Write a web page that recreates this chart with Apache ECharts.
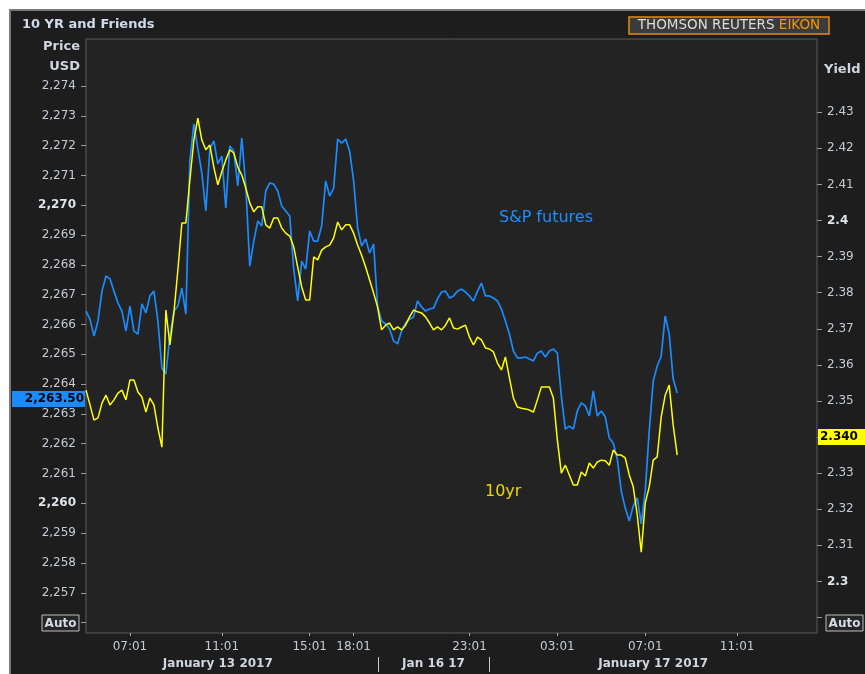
<!DOCTYPE html>
<html>
<head>
<meta charset="utf-8">
<title>10 YR and Friends</title>
<script src="https://cdn.jsdelivr.net/npm/echarts@6/dist/echarts.min.js"></script>
<style>
  html, body { margin: 0; padding: 0; background: #ffffff; }
  #chart { width: 865px; height: 674px; }
</style>
</head>
<body>
<div id="chart"></div>
<script>
// one slot = one step of the (trading-time) x axis
const slotCount = 184;
const timeTicks = [11, 34, 56, 67, 96, 118, 140, 163];
const timeLabels = ['07:01', '11:01', '15:01', '18:01', '23:01', '03:01', '07:01', '11:01'];
const daySplits = [73, 101];
const dayCenters = [33.25, 87.25, 141.5];
const dayLabels = ['January 13 2017', 'Jan 16 17', 'January 17 2017'];

const priceTicks = [2256, 2257, 2258, 2259, 2260, 2261, 2262, 2263, 2264, 2265,
  2266, 2267, 2268, 2269, 2270, 2271, 2272, 2273, 2274];
const yieldTicks = [2.29, 2.30, 2.31, 2.32, 2.33, 2.34, 2.35, 2.36, 2.37, 2.38,
  2.39, 2.40, 2.41, 2.42, 2.43];

const spFutures = [
  2266.45, 2266.18, 2265.61, 2266.12, 2267.12, 2267.63, 2267.53, 2267.12, 2266.72, 2266.45,
  2265.78, 2266.62, 2265.78, 2265.68, 2266.69, 2266.39, 2266.96, 2267.12, 2266.12, 2264.54,
  2264.34, 2265.61, 2266.45, 2266.62, 2267.22, 2266.35, 2271.49, 2272.73, 2271.89, 2271.08,
  2269.81, 2271.89, 2272.16, 2271.39, 2271.65, 2269.91, 2271.99, 2271.82, 2270.65, 2272.26,
  2270.65, 2267.96, 2268.80, 2269.47, 2269.31, 2270.48, 2270.75, 2270.71, 2270.48, 2269.98,
  2269.81, 2269.64, 2267.86, 2266.79, 2268.13, 2267.86, 2269.14, 2268.80, 2268.80, 2269.31,
  2270.82, 2270.31, 2270.58, 2272.22, 2272.09, 2272.22, 2271.82, 2270.82, 2269.24, 2268.63,
  2268.87, 2268.40, 2268.70, 2266.62, 2266.12, 2266.02, 2265.85, 2265.45, 2265.35, 2265.78,
  2266.05, 2266.18, 2266.25, 2266.79, 2266.59, 2266.45, 2266.52, 2266.55, 2266.86, 2267.09,
  2267.12, 2266.89, 2266.96, 2267.12, 2267.19, 2267.09, 2266.96, 2266.79, 2267.12, 2267.39,
  2266.96, 2266.96, 2266.89, 2266.79, 2266.52, 2266.12, 2265.68, 2265.11, 2264.88, 2264.88,
  2264.91, 2264.84, 2264.78, 2265.04, 2265.11, 2264.91, 2265.11, 2265.18, 2265.04, 2263.60,
  2262.49, 2262.59, 2262.49, 2263.10, 2263.37, 2263.27, 2262.93, 2263.77, 2262.93, 2263.10,
  2262.90, 2262.19, 2262.02, 2261.49, 2260.41, 2259.84, 2259.41, 2259.91, 2260.18, 2259.31,
  2260.41, 2262.43, 2264.10, 2264.61, 2264.94, 2266.29, 2265.68, 2264.17, 2263.70
];

const tenYear = [
  2.3530, 2.3489, 2.3447, 2.3453, 2.3494, 2.3516, 2.3489, 2.3503, 2.3522, 2.3530,
  2.3503, 2.3558, 2.3558, 2.3525, 2.3511, 2.3469, 2.3508, 2.3489, 2.3425, 2.3372,
  2.3752, 2.3655, 2.3744, 2.3863, 2.3993, 2.3993, 2.4112, 2.4223, 2.4284, 2.4223,
  2.4196, 2.4209, 2.4148, 2.4099, 2.4135, 2.4168, 2.4196, 2.4187, 2.4148, 2.4126,
  2.4090, 2.4049, 2.4024, 2.4038, 2.4038, 2.3988, 2.3979, 2.4007, 2.4007, 2.3979,
  2.3965, 2.3957, 2.3927, 2.3871, 2.3816, 2.3780, 2.3780, 2.3899, 2.3891, 2.3918,
  2.3927, 2.3932, 2.3952, 2.3996, 2.3974, 2.3988, 2.3988, 2.3965, 2.3932, 2.3904,
  2.3871, 2.3835, 2.3799, 2.3760, 2.3697, 2.3710, 2.3716, 2.3697, 2.3705, 2.3697,
  2.3710, 2.3733, 2.3752, 2.3747, 2.3744, 2.3733, 2.3716, 2.3697, 2.3705, 2.3697,
  2.3710, 2.3730, 2.3702, 2.3699, 2.3705, 2.3710, 2.3677, 2.3655, 2.3677, 2.3669,
  2.3647, 2.3644, 2.3636, 2.3605, 2.3586, 2.3622, 2.3564, 2.3508, 2.3483, 2.3480,
  2.3478, 2.3475, 2.3469, 2.3503, 2.3539, 2.3539, 2.3539, 2.3508, 2.3392, 2.3300,
  2.3322, 2.3295, 2.3267, 2.3267, 2.3303, 2.3292, 2.3328, 2.3314, 2.3331, 2.3336,
  2.3334, 2.3322, 2.3364, 2.3350, 2.3350, 2.3342, 2.3295, 2.3262, 2.3184, 2.3081,
  2.3217, 2.3262, 2.3336, 2.3345, 2.3456, 2.3516, 2.3544, 2.3433, 2.3350
];

const spLast = 2263.50;
const yieldLast = 2.340;

const FONT = 'DejaVu Sans';
const LABEL = '#c3cbd6';
const BLUE = '#1a8cff';
const YELLOW = '#ffff00';

const slots = Array.from({ length: slotCount }, (_, i) => String(i));
const tickSet = new Set(timeTicks);

function fmtPrice(v) {
  if (v === priceTicks[0]) return '';
  const s = String(v).replace(/\B(?=(\d{3})+(?!\d))/g, ',');
  return v % 10 === 0 ? '{b|' + s + '}' : s;
}
function fmtYield(v) {
  const r = Math.round(v * 100);
  // lowest tick carries the "Auto" box, the last-value badge sits on 2.34
  if (r === Math.round(yieldTicks[0] * 100) || r === Math.round(yieldLast * 100)) return '';
  const s = String(r / 100);
  return r % 10 === 0 ? '{b|' + s + '}' : s;
}

const chart = echarts.init(document.getElementById('chart'));

const option = {
  backgroundColor: '#ffffff',
  animation: false,
  textStyle: { fontFamily: FONT },
  grid: {
    left: 86, right: 48, top: 39, bottom: 41,
    show: true,
    backgroundColor: '#232323',
    borderColor: '#5c5c5c',
    borderWidth: 1
  },
  xAxis: {
    type: 'category',
    data: slots,
    boundaryGap: false,
    axisLine: { show: false },
    splitLine: { show: false },
    axisTick: {
      show: true, length: 3,
      interval: (i) => tickSet.has(i),
      lineStyle: { color: '#aaaaaa' }
    },
    axisLabel: {
      interval: (i) => tickSet.has(i),
      formatter: (v) => timeLabels[timeTicks.indexOf(Number(v))] || '',
      color: LABEL, fontSize: 12, fontFamily: FONT, margin: 8
    }
  },
  yAxis: [
    {
      type: 'value',
      position: 'left',
      min: 2255.65, max: 2275.58,
      axisLine: { show: false },
      splitLine: { show: false },
      axisTick: { show: true, length: 5, customValues: priceTicks, lineStyle: { color: '#9a9a9a' } },
      axisLabel: {
        customValues: priceTicks,
        formatter: fmtPrice,
        color: LABEL, fontSize: 12, fontFamily: FONT, margin: 10,
        rich: { b: { fontWeight: 'bold', color: '#dde3ea', fontSize: 12, fontFamily: FONT } }
      }
    },
    {
      type: 'value',
      position: 'right',
      min: 2.2857, max: 2.4503,
      axisLine: { show: false },
      splitLine: { show: false },
      axisTick: { show: true, length: 5, customValues: yieldTicks, lineStyle: { color: '#9a9a9a' } },
      axisLabel: {
        customValues: yieldTicks,
        formatter: fmtYield,
        color: LABEL, fontSize: 12, fontFamily: FONT, margin: 10,
        rich: { b: { fontWeight: 'bold', color: '#dde3ea', fontSize: 12, fontFamily: FONT } }
      }
    }
  ],
  series: [
    {
      name: 'S&P futures',
      type: 'line',
      yAxisIndex: 0,
      data: spFutures,
      showSymbol: false,
      lineStyle: { color: BLUE, width: 1.7 }
    },
    {
      name: '10yr',
      type: 'line',
      yAxisIndex: 1,
      data: tenYear,
      showSymbol: false,
      lineStyle: { color: YELLOW, width: 1.5 }
    }
  ]
};
chart.setOption(option);

// place the decorations that depend on the axes
const px = (slot) => chart.convertToPixel({ xAxisIndex: 0 }, slot);
const pyL = (v) => chart.convertToPixel({ yAxisIndex: 0 }, v);
const pyR = (v) => chart.convertToPixel({ yAxisIndex: 1 }, v);

const graphics = [
  { type: 'rect', z: -100, silent: true,
    shape: { x: 10, y: 10, width: 870, height: 680 },
    style: { fill: '#1d1d1d', stroke: '#7a7a7a', lineWidth: 2 } },
  { type: 'text', x: 22, y: 25,
    style: { text: '10 YR and Friends', font: 'bold 13px "DejaVu Sans"', fill: '#cfdaea', verticalAlign: 'middle' } },
  { type: 'text', x: 80, y: 47,
    style: { text: 'Price', font: 'bold 13px "DejaVu Sans"', fill: '#cfd6e0', align: 'right', verticalAlign: 'middle' } },
  { type: 'text', x: 80, y: 67,
    style: { text: 'USD', font: 'bold 13px "DejaVu Sans"', fill: '#cfd6e0', align: 'right', verticalAlign: 'middle' } },
  { type: 'text', x: 824, y: 70,
    style: { text: 'Yield', font: 'bold 13px "DejaVu Sans"', fill: '#cfd6e0', verticalAlign: 'middle' } },
  // logo
  { type: 'rect', shape: { x: 629, y: 17, width: 200, height: 17 },
    style: { fill: '#3b3b3b', stroke: '#e38b12', lineWidth: 1.5 } },
  { type: 'text', x: 729, y: 25.5,
    style: {
      text: '{w|THOMSON REUTERS }{o|EIKON}',
      align: 'center', verticalAlign: 'middle',
      rich: {
        w: { fill: '#dcdcdc', font: '13.5px "DejaVu Sans"' },
        o: { fill: '#f0960f', font: '13.5px "DejaVu Sans"' }
      }
    } },
  // Auto boxes
  { type: 'rect', shape: { x: 42, y: 615, width: 37, height: 16 },
    style: { fill: '#262626', stroke: '#bdbdbd', lineWidth: 1 } },
  { type: 'text', x: 60.5, y: 623.5,
    style: { text: 'Auto', font: 'bold 12px "DejaVu Sans"', fill: '#d3dae4', align: 'center', verticalAlign: 'middle' } },
  { type: 'rect', shape: { x: 826, y: 615, width: 37, height: 16 },
    style: { fill: '#262626', stroke: '#bdbdbd', lineWidth: 1 } },
  { type: 'text', x: 844.5, y: 623.5,
    style: { text: 'Auto', font: 'bold 12px "DejaVu Sans"', fill: '#d3dae4', align: 'center', verticalAlign: 'middle' } },
  // series names inside the plot
  { type: 'text', x: 499, y: 218,
    style: { text: 'S&P futures', font: '16px "DejaVu Sans"', fill: '#1f8fff', verticalAlign: 'middle' } },
  { type: 'text', x: 485, y: 492,
    style: { text: '10yr', font: '16px "DejaVu Sans"', fill: '#e8d800', verticalAlign: 'middle' } }
];

// last-value badges
const yB = pyL(spLast);
graphics.push(
  { type: 'rect', z: 50, shape: { x: 12, y: yB - 8, width: 73, height: 16 }, style: { fill: BLUE } },
  { type: 'text', z: 51, x: 84, y: yB,
    style: { text: spLast.toLocaleString('en-US', { minimumFractionDigits: 2 }), font: 'bold 12px "DejaVu Sans"', fill: '#000000', align: 'right', verticalAlign: 'middle' } }
);
const yY = pyR(yieldLast);
graphics.push(
  { type: 'rect', z: 50, shape: { x: 818, y: yY - 8, width: 47, height: 16 }, style: { fill: YELLOW } },
  { type: 'text', z: 51, x: 820, y: yY,
    style: { text: yieldLast.toFixed(3), font: 'bold 12px "DejaVu Sans"', fill: '#000000', verticalAlign: 'middle' } }
);

// date row under the time labels
daySplits.forEach((s) => {
  const x = Math.round(px(s)) + 0.5;
  graphics.push({ type: 'line', shape: { x1: x, y1: 657, x2: x, y2: 672 }, style: { stroke: '#c8c8c8', lineWidth: 1 } });
});
dayLabels.forEach((t, k) => {
  graphics.push({ type: 'text', x: px(dayCenters[k]), y: 664,
    style: { text: t, font: 'bold 12px "DejaVu Sans"', fill: '#cfd6e0', align: 'center', verticalAlign: 'middle' } });
});

chart.setOption({ graphic: graphics });
</script>
</body>
</html>
